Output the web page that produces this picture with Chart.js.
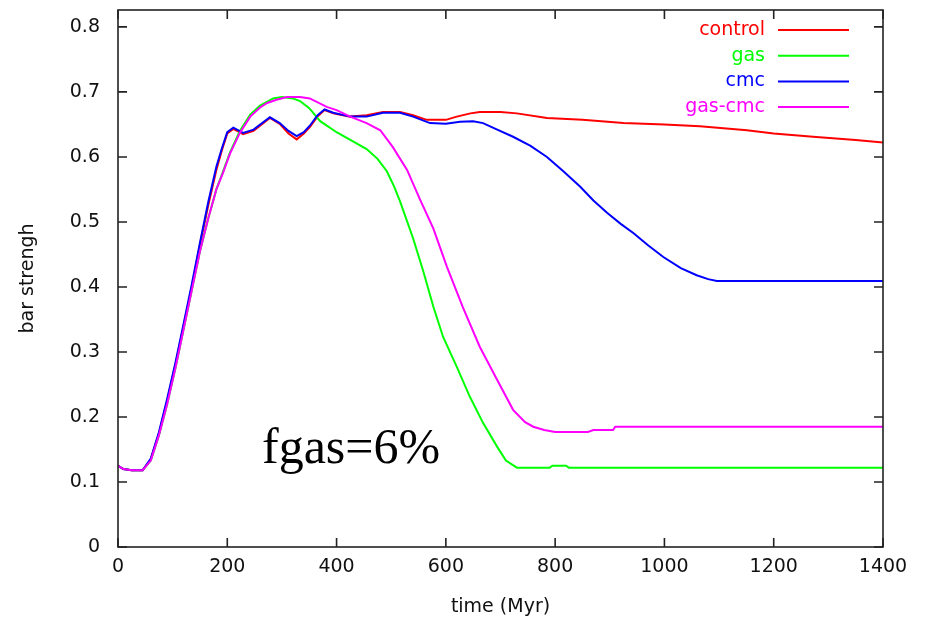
<!DOCTYPE html>
<html>
<head>
<meta charset="utf-8">
<script src="https://cdn.jsdelivr.net/npm/chart.js@4/dist/chart.umd.min.js"></script>
<style>
  body { margin: 0; background: #fff; }
  #wrap { width: 928px; height: 623px; }
</style>
</head>
<body>
<div id="wrap"><canvas id="myChart" width="928" height="623"></canvas></div>
<script>
// bar strength vs time, four runs
const seriesNames = ["control", "gas", "cmc", "gas-cmc"];
const seriesColors = ["#ff0000", "#00ff00", "#0000ff", "#ff00ff"];

const controlTime = [0, 10, 25, 45, 60, 75, 90, 105, 120, 135, 150, 165, 180, 190, 200, 211, 229, 248, 278, 296, 312, 327, 340, 351, 365, 378, 394, 425, 455, 485, 516, 540, 565, 600, 620, 645, 662, 700, 730, 785, 850, 925, 1000, 1065, 1151, 1200, 1272, 1350, 1400];
const controlStrength = [0.125, 0.12, 0.118, 0.118, 0.135, 0.175, 0.225, 0.28, 0.34, 0.40, 0.465, 0.525, 0.58, 0.61, 0.636, 0.643, 0.635, 0.64, 0.66, 0.651, 0.636, 0.627, 0.636, 0.646, 0.662, 0.672, 0.667, 0.662, 0.664, 0.669, 0.669, 0.664, 0.657, 0.657, 0.662, 0.667, 0.669, 0.669, 0.667, 0.66, 0.657, 0.652, 0.65, 0.647, 0.641, 0.636, 0.631, 0.626, 0.622];

const gasTime = [0, 10, 25, 45, 60, 75, 90, 105, 120, 135, 150, 165, 180, 192, 205, 223, 242, 260, 284, 300, 320, 333, 350, 370, 400, 430, 455, 475, 492, 505, 516, 540, 558, 577, 595, 620, 644, 668, 694, 710, 730, 790, 795, 820, 825, 1400];
const gasStrength = [0.125, 0.12, 0.118, 0.118, 0.133, 0.172, 0.22, 0.275, 0.335, 0.395, 0.455, 0.505, 0.55, 0.577, 0.607, 0.64, 0.665, 0.679, 0.69, 0.692, 0.69, 0.686, 0.675, 0.655, 0.638, 0.624, 0.612, 0.597, 0.578, 0.555, 0.532, 0.475, 0.426, 0.37, 0.323, 0.277, 0.231, 0.191, 0.154, 0.133, 0.122, 0.122, 0.125, 0.125, 0.122, 0.122];

const cmcTime = [0, 10, 25, 45, 60, 75, 90, 105, 120, 135, 150, 165, 180, 190, 200, 211, 229, 248, 278, 296, 312, 327, 340, 351, 365, 378, 394, 425, 455, 485, 516, 540, 571, 600, 626, 650, 668, 694, 723, 755, 785, 815, 846, 870, 895, 920, 943, 970, 998, 1030, 1059, 1080, 1096, 1150, 1400];
const cmcStrength = [0.125, 0.12, 0.118, 0.118, 0.136, 0.177, 0.228, 0.283, 0.343, 0.404, 0.468, 0.53, 0.585, 0.613, 0.638, 0.645, 0.637, 0.642, 0.661, 0.652, 0.64, 0.632, 0.638, 0.648, 0.664, 0.673, 0.668, 0.662, 0.662, 0.668, 0.668, 0.662, 0.652, 0.651, 0.654, 0.655, 0.652, 0.642, 0.631, 0.617, 0.6, 0.578, 0.554, 0.533, 0.514, 0.497, 0.483, 0.464, 0.446, 0.429, 0.418, 0.412, 0.409, 0.409, 0.409];

const gasCmcTime = [0, 10, 25, 45, 60, 75, 90, 105, 120, 135, 150, 165, 180, 192, 205, 223, 242, 260, 273, 290, 309, 333, 351, 382, 400, 425, 455, 480, 503, 529, 553, 577, 602, 631, 662, 694, 723, 745, 760, 780, 800, 860, 870, 906, 910, 1400];
const gasCmcStrength = [0.125, 0.12, 0.118, 0.118, 0.133, 0.172, 0.22, 0.275, 0.335, 0.395, 0.455, 0.505, 0.55, 0.575, 0.605, 0.637, 0.662, 0.676, 0.683, 0.688, 0.692, 0.692, 0.69, 0.677, 0.672, 0.662, 0.652, 0.641, 0.615, 0.58, 0.534, 0.49, 0.431, 0.369, 0.308, 0.257, 0.211, 0.192, 0.185, 0.18, 0.177, 0.177, 0.18, 0.18, 0.185, 0.185];

const xTicks = [0, 200, 400, 600, 800, 1000, 1200, 1400];
const yTicks = [0, 0.1, 0.2, 0.3, 0.4, 0.5, 0.6, 0.7, 0.8];

const allTimes = [controlTime, gasTime, cmcTime, gasCmcTime];
const allStrengths = [controlStrength, gasStrength, cmcStrength, gasCmcStrength];

const tickFont = { family: "DejaVu Sans", size: 19 };

// gnuplot-style frame with inward ticks on all four sides, legend, note
const framePlugin = {
  id: "frame",
  afterDatasetsDraw(chart) {
    const { ctx, chartArea: a, scales } = chart;
    ctx.save();
    ctx.strokeStyle = "#222";
    ctx.lineWidth = 1.6;
    ctx.strokeRect(a.left, a.top, a.right - a.left, a.bottom - a.top);
    ctx.beginPath();
    xTicks.forEach((v) => {
      const px = scales.x.getPixelForValue(v);
      ctx.moveTo(px, a.bottom); ctx.lineTo(px, a.bottom - 9);
      ctx.moveTo(px, a.top); ctx.lineTo(px, a.top + 9);
    });
    yTicks.forEach((v) => {
      const py = scales.y.getPixelForValue(v);
      ctx.moveTo(a.left, py); ctx.lineTo(a.left + 9, py);
      ctx.moveTo(a.right, py); ctx.lineTo(a.right - 9, py);
    });
    ctx.stroke();

    // legend: label right-aligned, then a short line sample
    ctx.font = "19px 'DejaVu Sans'";
    ctx.textAlign = "right";
    ctx.textBaseline = "middle";
    chart.data.datasets.forEach((ds, i) => {
      const y = a.top + 20 + i * 25.7;
      ctx.fillStyle = ds.borderColor;
      ctx.fillText(ds.label, a.right - 118, y);
      ctx.strokeStyle = ds.borderColor;
      ctx.lineWidth = 2;
      ctx.beginPath();
      ctx.moveTo(a.right - 105, y);
      ctx.lineTo(a.right - 34, y);
      ctx.stroke();
    });

    ctx.fillStyle = "#000";
    ctx.textAlign = "left";
    ctx.textBaseline = "alphabetic";
    ctx.font = "50px 'Liberation Serif'";
    ctx.fillText("fgas=6%", a.left + 144, a.top + 453);
    ctx.restore();
  }
};

const ctx = document.getElementById("myChart").getContext("2d");
const myChart = new Chart(ctx, {
  type: "line",
  data: {
    datasets: seriesNames.map((name, i) => ({
      label: name,
      data: allTimes[i].map((t, j) => ({ x: t, y: allStrengths[i][j] })),
      borderColor: seriesColors[i],
      backgroundColor: seriesColors[i],
      borderWidth: 2,
      pointRadius: 0,
      tension: 0,
      fill: false,
      order: seriesNames.length - i
    }))
  },
  options: {
    responsive: false,
    animation: false,
    devicePixelRatio: 1,
    layout: { padding: { top: 10, right: 45, left: 0, bottom: 0 } },
    plugins: { legend: { display: false }, tooltip: { enabled: false } },
    scales: {
      x: {
        type: "linear",
        min: 0,
        max: 1400,
        afterBuildTicks: (scale) => { scale.ticks = xTicks.map((v) => ({ value: v })); },
        afterFit: (scale) => { scale.height = 76; scale.paddingLeft = 0; scale.paddingRight = 0; },
        grid: { display: false, drawTicks: false },
        border: { display: false },
        ticks: { color: "#111", font: tickFont, padding: 9, maxRotation: 0, callback: (v) => String(v) },
        title: { display: true, text: "time (Myr)", color: "#111", font: tickFont, padding: { top: 0, bottom: 5 } }
      },
      y: {
        type: "linear",
        min: 0,
        max: 0.826,
        afterBuildTicks: (scale) => { scale.ticks = yTicks.map((v) => ({ value: v })); },
        afterFit: (scale) => { scale.width = 118; scale.paddingTop = 0; scale.paddingBottom = 0; },
        grid: { display: false, drawTicks: false },
        border: { display: false },
        ticks: {
          color: "#111",
          font: tickFont,
          padding: 18,
          callback: (v) => (v === 0 ? "0" : v.toFixed(1))
        },
        title: { display: true, text: "bar strengh", color: "#111", font: tickFont, padding: { top: 17, bottom: 0 } }
      }
    }
  },
  plugins: [framePlugin]
});
</script>
</body>
</html>
